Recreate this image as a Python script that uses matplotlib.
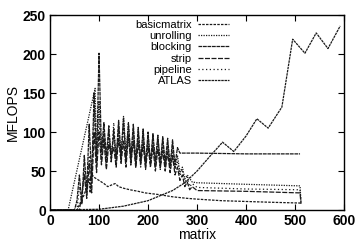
import numpy as np
import matplotlib
matplotlib.use("Agg")
import matplotlib.pyplot as plt

plt.rcParams['font.family'] = ['Liberation Sans', 'DejaVu Sans']

# shared x grid for the oscillating part (matrix sizes 95..265)
x_osc = list(np.arange(95, 270, 5))

# basicmatrix
x_basic = [0, 55, 70, 80, 82, 85, 90, 100, 110, 118, 125, 133, 140, 150, 163, 180,
           194, 220, 250, 280, 300, 350, 400, 450, 510, 512]
y_basic = [0, 0, 20, 40, 22, 46, 42, 38, 34, 30, 32, 34, 30, 28, 26, 24,
           22, 20, 17, 15, 14, 12, 11, 10, 9, 8]

# unrolling
x_unroll = [0, 37, 92] + x_osc + [270, 275, 280, 290, 300, 400, 510, 512]
y_unroll = [0, 0, 156,
            70, 140, 65, 105, 60, 100, 72, 95, 60, 108, 66, 120, 72, 110, 62, 104, 58,
            100, 64, 98, 56, 96, 58, 94, 55, 92, 60, 90, 55, 86, 58, 82, 54, 70, 48,
            55, 40, 45, 36, 35, 33, 31, 10]

# blocking
x_block = [0, 50, 55, 60, 65, 70, 75, 80, 85, 90] + x_osc + [300, 400, 510]
y_block = [0, 0, 12, 45, 8, 70, 25, 110, 40, 150,
           60, 201, 75, 112, 68, 108, 62, 104, 66, 115, 70, 118, 64, 112, 68, 110, 60,
           106, 62, 104, 58, 100, 60, 98, 62, 96, 58, 94, 60, 92, 56, 90, 58, 80, 73,
           73, 72, 72]

# strip
x_strip = [0, 60, 65, 70, 75, 80, 85, 90] + x_osc + [270, 275, 280, 285, 290, 300, 400, 510, 512]
y_strip = [0, 0, 20, 45, 15, 60, 22, 100,
           48, 100, 58, 90, 52, 85, 70, 80, 55, 92, 62, 88, 55, 95, 60, 88, 54,
           86, 58, 84, 52, 82, 56, 80, 50, 78, 54, 76, 50, 74, 48, 70, 45, 55, 38,
           45, 30, 36, 26, 30, 25, 24, 22, 8]

# pipeline
x_pipe = [0, 55, 60, 65, 70, 75, 80, 85, 90] + x_osc + [270, 275, 280, 285, 290, 300, 400, 510, 512]
y_pipe = [0, 0, 30, 10, 50, 20, 70, 35, 130,
          55, 120, 62, 98, 55, 96, 60, 112, 64, 100, 58, 106, 66, 98, 56, 96, 62,
          92, 55, 90, 60, 88, 54, 86, 58, 84, 52, 82, 56, 80, 50, 76, 52, 62, 44,
          52, 34, 42, 30, 34, 29, 27, 26, 10]

# ATLAS
x_atlas = [0, 100, 150, 200, 250, 275, 300, 325, 352, 375, 400, 422, 445, 473,
           495, 520, 543, 567, 592]
y_atlas = [0, 1, 5, 12, 25, 35, 50, 68, 87, 75, 95, 117, 105, 132,
           219, 201, 227, 207, 236]

series = [
    ("basicmatrix", x_basic, y_basic, (0, (2, 1))),
    ("unrolling", x_unroll, y_unroll, (0, (1, 1))),
    ("blocking", x_block, y_block, (0, (3, 0.6))),
    ("strip", x_strip, y_strip, (0, (4, 1.2))),
    ("pipeline", x_pipe, y_pipe, (0, (1, 2))),
    ("ATLAS", x_atlas, y_atlas, (0, (2, 0.6))),
]

fig = plt.figure(figsize=(3.57, 2.42), dpi=100)
ax = fig.add_axes([0.14, 0.132, 0.824, 0.806])

for name, xs, ys, ls in series:
    ax.plot(xs, ys, color="#1a1a1a", linestyle=ls, linewidth=0.9, label=name)

ax.set_xlim(0, 600)
ax.set_ylim(0, 250)
ax.set_xticks([0, 100, 200, 300, 400, 500, 600])
ax.set_yticks([0, 50, 100, 150, 200, 250])
ax.tick_params(direction="in", length=4, width=0.8, top=True, right=True,
               labelsize=10, pad=3)
for lab in ax.get_xticklabels() + ax.get_yticklabels():
    lab.set_fontweight("bold")
for sp in ax.spines.values():
    sp.set_linewidth(1.0)

ax.set_xlabel("matrix", fontsize=10, labelpad=0)
ax.set_ylabel("MFLOPS", fontsize=10, labelpad=2)

ax.legend(loc="upper right", bbox_to_anchor=(0.63, 1.01), frameon=False,
          markerfirst=False, fontsize=8, handlelength=2.8, handletextpad=0.5,
          labelspacing=0.12, borderaxespad=0.2)

fig.savefig("out.png", dpi=100)
